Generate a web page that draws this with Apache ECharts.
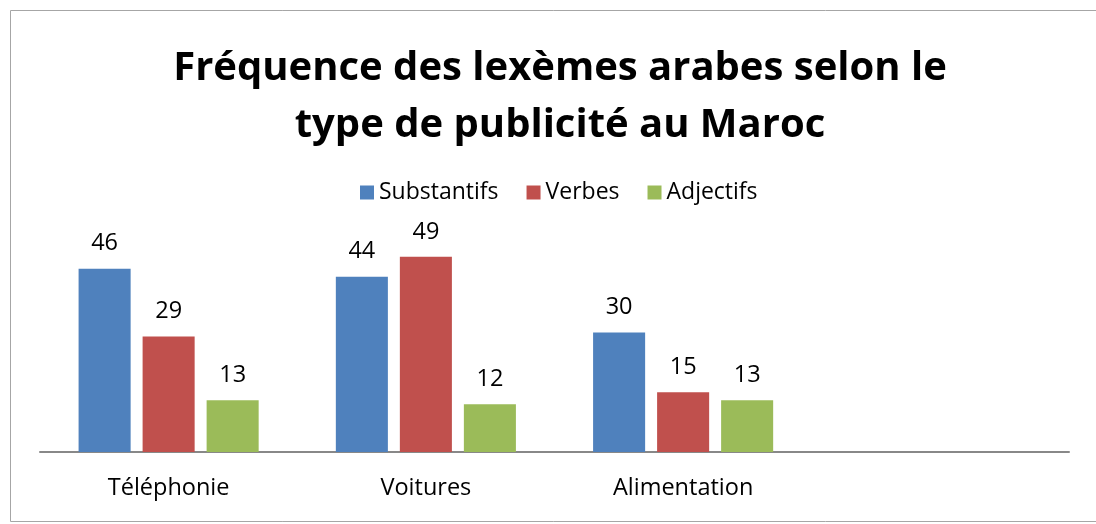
<!DOCTYPE html>
<html>
<head>
<meta charset="utf-8">
<script src="https://cdn.jsdelivr.net/npm/echarts@6/dist/echarts.min.js"></script>
<style>
html,body{margin:0;padding:0;background:#fff;}
#c{width:1096px;height:524px;}
</style>
</head>
<body>
<div id="c"></div>
<script>
const categories = ['Téléphonie', 'Voitures', 'Alimentation', ''];
const substantifs = [46, 44, 30, null];
const verbes = [29, 49, 15, null];
const adjectifs = [13, 12, 13, null];
const seriesNames = ['Substantifs', 'Verbes', 'Adjectifs'];
const colors = ['#4F81BD', '#C0504D', '#9BBB59'];
const titleText = 'Fréquence des lexèmes arabes selon le\ntype de publicité au Maroc';

const FONT = 'Open Sans';
const chart = echarts.init(document.getElementById('c'), null, {renderer: 'canvas'});
const values = [substantifs, verbes, adjectifs];
chart.setOption({
  animation: false,
  backgroundColor: '#fff',
  graphic: [{
    type: 'rect', shape: {x: 10.5, y: 10.5, width: 1100, height: 511},
    style: {fill: 'none', stroke: '#A6A6A6', lineWidth: 1}, silent: true, z: -1
  }],
  title: {
    text: titleText,
    left: 555, top: 35, textAlign: 'center',
    textStyle: {fontFamily: FONT, fontWeight: 'bold', fontSize: 40, lineHeight: 57, color: '#000'}
  },
  legend: {
    data: seriesNames,
    left: 355, top: 176,
    itemWidth: 14, itemHeight: 14, itemGap: 28,
    icon: 'rect',
    textStyle: {fontFamily: FONT, fontSize: 23, color: '#000'}
  },
  grid: {left: 40, right: 27, top: 213, bottom: 72},
  xAxis: {
    type: 'category', data: categories,
    axisLine: {lineStyle: {color: '#888', width: 2}},
    axisTick: {show: false},
    axisLabel: {fontFamily: FONT, fontSize: 23.5, color: '#000', margin: 24}
  },
  yAxis: {type: 'value', min: 0, max: 60, interval: 10, show: false, splitLine: {show: false}},
  series: seriesNames.map((n, i) => ({
    name: n, type: 'bar', data: values[i],
    itemStyle: {color: colors[i]},
    barCategoryGap: '30%', barGap: '23%',
    label: {show: true, position: 'top', distance: 13, fontFamily: FONT, fontSize: 23.5, color: '#000'}
  }))
});
</script>
</body>
</html>
